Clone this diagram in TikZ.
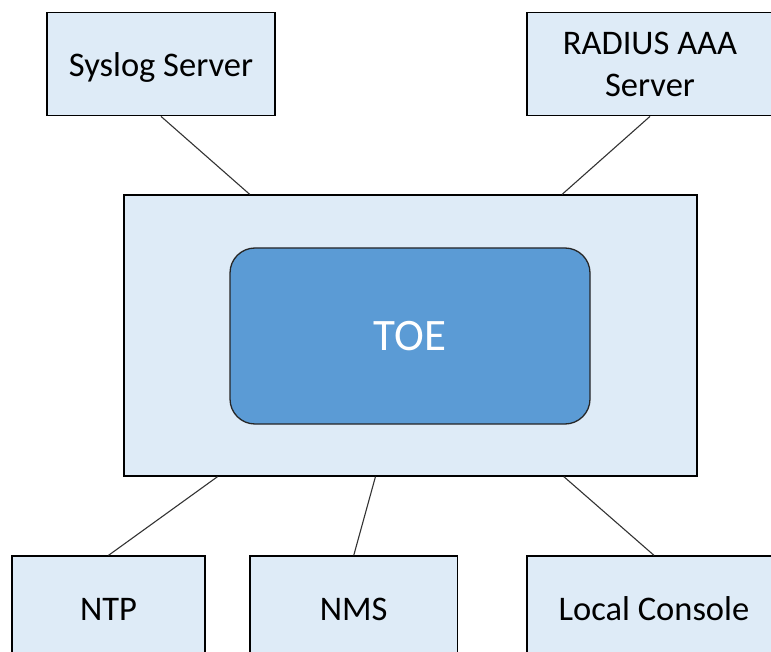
\documentclass[tikz,border=0pt]{standalone}
\usepackage{fontspec}
\setmainfont{Carlito}
\usetikzlibrary{calc}
\definecolor{boxfill}{HTML}{DEEBF7}
\definecolor{toefill}{HTML}{5B9BD5}
\definecolor{linkgray}{HTML}{333333}
\begin{document}
\begin{tikzpicture}[x=1pt,y=-1pt,
  box/.style={draw=black, line width=1.3pt, fill=boxfill, inner sep=0pt,
    font=\fontsize{34.5}{42}\selectfont, align=center},
  oneline/.style={text height=24.5pt, text depth=0pt},
  toebox/.style={draw=black!85, line width=1.3pt, fill=toefill, rounded corners=25pt,
    inner sep=0pt, text=white, font=\fontsize{45}{54}\selectfont,
    text height=29.5pt, text depth=0pt},
  link/.style={draw=linkgray, line width=1.1pt}]
\useasboundingbox (0,0) rectangle (771,652);
\clip (0,0) rectangle (771,652);
% central system box and TOE
\node[box, minimum width=573pt, minimum height=281pt] (main) at (410.5,335.5) {};
\node[toebox, minimum width=360pt, minimum height=176pt] (toe) at (410,336) {TOE};
% top servers
\node[box, oneline, minimum width=228pt, minimum height=103.5pt] (syslog) at (161,64) {Syslog Server};
\node[box, minimum width=246pt, minimum height=103.5pt] (radius) at (650,64) {\raisebox{0pt}[0pt][0pt]{}\vphantom{}RADIUS AAA\\Server};
% bottom peers
\node[box, oneline, minimum width=193pt, minimum height=104pt] (ntp) at (108.5,608) {NTP};
\node[box, oneline, minimum width=207.5pt, minimum height=104pt] (nms) at (353.75,608) {NMS};
\node[box, oneline, minimum width=254pt, minimum height=104pt] (lc) at (654,608) {Local Console};
% connectors
\draw[link] (syslog.south) -- ($(main.north west)!0.22!(main.north east)$);
\draw[link] (radius.south) -- ($(main.north west)!0.764!(main.north east)$);
\draw[link] (ntp.north) -- ($(main.south west)!0.164!(main.south east)$);
\draw[link] (nms.north) -- ($(main.south west)!0.439!(main.south east)$);
\draw[link] (lc.north) -- ($(main.south west)!0.767!(main.south east)$);
\end{tikzpicture}
\end{document}
